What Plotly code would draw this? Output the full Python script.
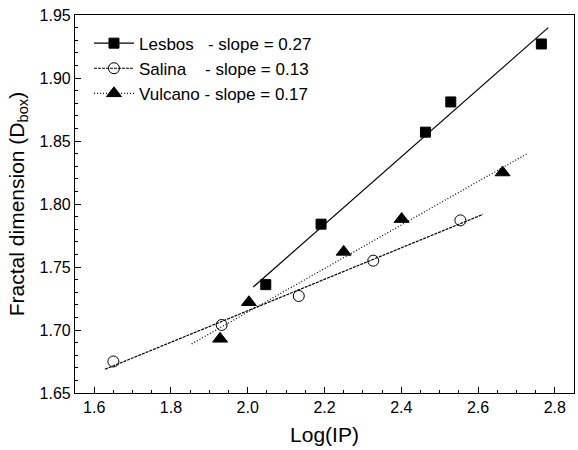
import plotly.graph_objects as go

# Data
lesbos_x = [2.047, 2.191, 2.463, 2.529, 2.765]
lesbos_y = [1.736, 1.784, 1.857, 1.881, 1.927]
salina_x = [1.650, 1.932, 2.133, 2.327, 2.554]
salina_y = [1.675, 1.704, 1.727, 1.755, 1.787]
vulcano_x = [1.928, 2.003, 2.250, 2.401, 2.664]
vulcano_y = [1.693, 1.722, 1.762, 1.788, 1.825]

# Fitted line endpoints
lesbos_fit_x = [2.014, 2.783]
lesbos_fit_y = [1.734, 1.940]
salina_fit_x = [1.628, 2.613]
salina_fit_y = [1.6688, 1.7918]
vulcano_fit_x = [1.854, 2.728]
vulcano_fit_y = [1.689, 1.840]

names = ["Lesbos\u00a0\u00a0\u00a0- slope = 0.27",
         "Salina\u00a0\u00a0\u00a0\u00a0- slope = 0.13",
         "Vulcano - slope = 0.17"]

FONT = "Liberation Sans, Arial, sans-serif"

fig = go.Figure()

series = [
    (lesbos_x, lesbos_y, lesbos_fit_x, lesbos_fit_y, "square", "black", 10, "solid"),
    (salina_x, salina_y, salina_fit_x, salina_fit_y, "circle-open", "black", 11, "3px,1px"),
    (vulcano_x, vulcano_y, vulcano_fit_x, vulcano_fit_y, "triangle-up", "black", 13, "1px,2px"),
]

for (sx, sy, fx, fy, sym, col, sz, dash), nm in zip(series, names):
    fig.add_trace(go.Scatter(x=fx, y=fy, mode="lines", showlegend=False,
                             line=dict(color="black", width=1.2, dash=dash)))
    fig.add_trace(go.Scatter(x=sx, y=sy, mode="markers", showlegend=False,
                             marker=dict(symbol=sym, size=sz, color="black",
                                         line=dict(color="black", width=1))))
    fig.add_trace(go.Scatter(x=[None], y=[None], mode="lines+markers", name=nm,
                             line=dict(color="black", width=1.2, dash=dash),
                             marker=dict(symbol=sym, size=sz, color="black",
                                         line=dict(color="black", width=1))))

axis_common = dict(showgrid=False, zeroline=False, showline=True, linecolor="black",
                   linewidth=1.2, mirror=True, ticks="inside", ticklen=6,
                   tickwidth=1.2, tickcolor="black",
                   tickfont=dict(family=FONT, size=16, color="black"),
                   minor=dict(ticks="inside", ticklen=3, tickwidth=1.2,
                              tickcolor="black", showgrid=False))

fig.update_xaxes(range=[1.55, 2.85], tick0=1.6, dtick=0.2, tickformat=".1f",
                 title=dict(text="Log(IP)", font=dict(family=FONT, size=21, color="black"),
                            standoff=12),
                 **axis_common)
fig.update_yaxes(range=[1.65, 1.95], tick0=1.65, dtick=0.05, tickformat=".2f",
                 title=dict(text="Fractal dimension (D<sub>box</sub>)",
                            font=dict(family=FONT, size=21, color="black"), standoff=9),
                 **axis_common)

fig.update_layout(
    width=578, height=450,
    margin=dict(l=75, r=4, t=15, b=57),
    paper_bgcolor="white", plot_bgcolor="white",
    font=dict(family=FONT, color="black"),
    legend=dict(x=0.028, y=0.972, xanchor="left", yanchor="top",
                bgcolor="rgba(0,0,0,0)", font=dict(family=FONT, size=17, color="black"),
                itemwidth=40, tracegroupgap=0),
)

fig.write_html("out.html")
